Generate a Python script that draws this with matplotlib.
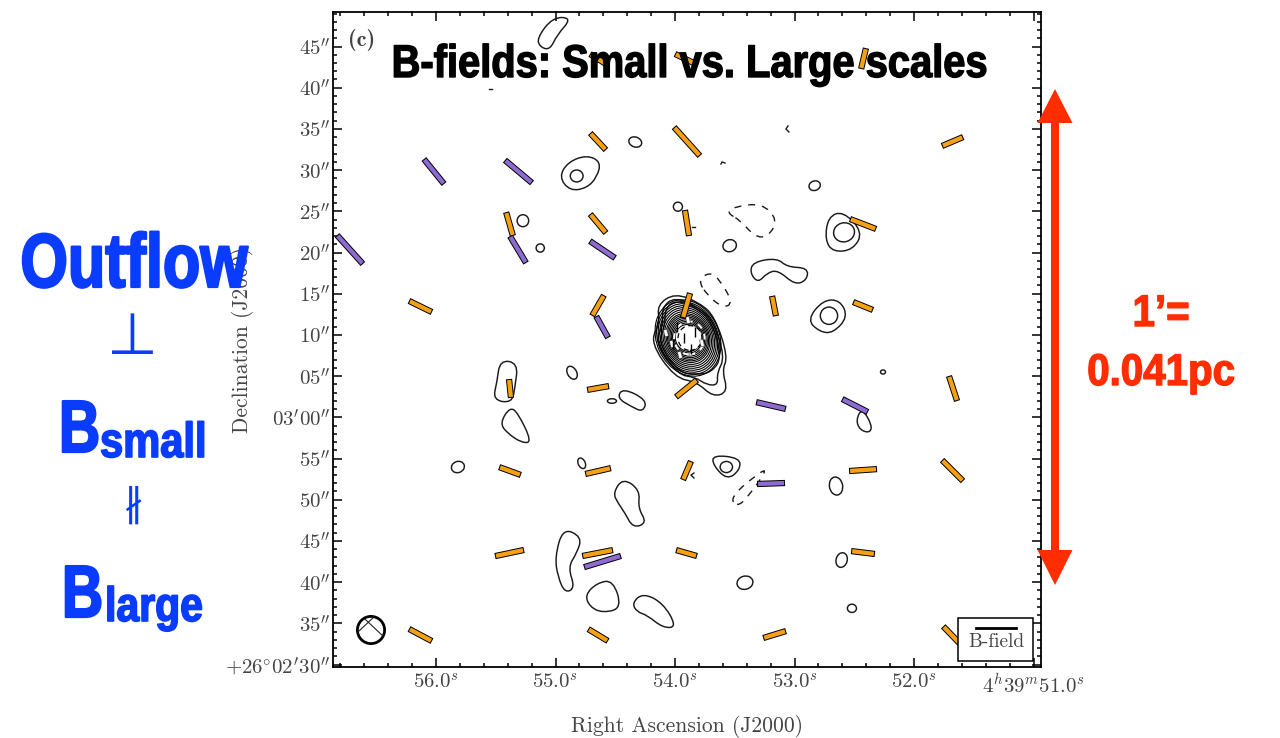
import numpy as np
import matplotlib
matplotlib.use("Agg")
import matplotlib.pyplot as plt
from matplotlib.collections import LineCollection
from matplotlib.patches import Ellipse, PathPatch, Rectangle, Polygon
from matplotlib.patheffects import AbstractPathEffect
from matplotlib.path import Path
from matplotlib.transforms import Affine2D

plt.rcParams['mathtext.fontset'] = 'cm'

# B-field vectors: RA seconds (4h39m..), Dec arcsec (+26d02m..), PA east of north, length arcsec
orange_ra = [54.644, 53.904, 52.423, 54.644, 53.900, 51.678, 55.385, 54.644, 53.900, 52.427, 56.130,
             54.644, 53.904, 53.172, 52.427, 54.644, 53.904, 55.381, 51.674, 55.381, 54.644, 53.900,
             52.427, 51.678, 55.385, 54.648, 53.904, 52.427, 56.130, 54.644, 53.167, 51.670]
orange_dec = [103.48, 103.42, 103.54, 93.47, 93.47, 93.47, 83.46, 83.52, 83.58, 83.46, 73.45,
              73.57, 73.57, 73.51, 73.51, 63.56, 63.50, 63.50, 63.50, 53.48, 53.48, 53.54,
              53.60, 53.54, 43.53, 43.53, 43.53, 43.59, 33.58, 33.58, 33.64, 33.34]
orange_pa = [58, 64, -13, 43, 42, -67, 16, 40, 9, 69, 64,
             -30, -16, 11, 68, -80, -51, 6, 18, 70, -77, -23,
             -86, 45, -78, -79, 74, 83, 62, 59, -73, 44]
orange_len = [2.3, 3.1, 2.6, 2.8, 4.7, 2.8, 3.0, 3.0, 3.2, 3.4, 3.1,
              2.9, 3.15, 2.5, 2.6, 2.7, 3.3, 2.3, 3.2, 2.8, 3.2, 2.5,
              3.4, 3.6, 3.6, 3.8, 2.65, 2.9, 3.15, 2.8, 2.9, 3.6]

purple_ra = [56.017, 55.310, 56.720, 55.314, 54.607, 54.610, 53.197, 52.494, 53.197, 54.607]
purple_dec = [89.83, 89.83, 80.36, 80.36, 80.36, 70.96, 61.43, 61.43, 51.97, 42.50]
purple_pa = [39, 50, 42, 31, 56, 29, 77, 63, -88, -73]
purple_len = [3.9, 4.3, 4.7, 3.8, 3.7, 3.0, 3.7, 3.5, 3.4, 4.7]

# short vectors on top of the central source
core_ra = [54.076, 53.892, 54.026, 53.959, 53.775]
core_dec = [70.23, 71.81, 68.90, 67.56, 69.02]
core_black_ra = [53.984, 53.833, 53.925, 53.867, 54.017]
core_black_dec = [70.96, 70.34, 69.63, 68.29, 68.90]

# small contours, sizes in arcsec, tilt in degrees
oval_ra = [54.333, 54.823, 55.273, 55.128, 53.976, 53.543, 52.832, 52.586, 52.712, 54.862,
           54.528, 54.781, 53.571, 52.606, 53.415, 52.520, 55.817, 52.260, 52.653]
oval_dec = [93.41, 89.29, 83.86, 80.55, 85.56, 80.83, 88.11, 82.45, 72.33, 65.41,
            61.98, 54.42, 53.97, 42.68, 39.93, 36.82, 53.97, 65.50, 51.66]
oval_w = [1.6, 1.55, 1.4, 1.0, 1.1, 1.65, 1.4, 2.55, 2.1, 1.1,
          1.1, 0.85, 1.5, 1.35, 1.95, 1.1, 1.6, 0.6, 1.6]
oval_h = [1.2, 1.45, 1.45, 1.0, 1.1, 1.45, 1.15, 2.3, 2.1, 1.7,
          0.55, 1.35, 1.35, 1.8, 1.6, 1.0, 1.35, 0.5, 2.2]
oval_tilt = [-20, 0, 0, 0, 0, 20, 20, 15, 0, 30, 0, 25, 0, -15, 15, 0, 20, 0, 10]

# central source, nested contours
nest_major = [9.6, 9.1, 8.6, 8.1, 7.6, 7.1, 6.6, 6.1, 5.7, 5.3, 4.9, 4.5, 4.1, 3.7, 3.3]
nest_minor = [7.6, 7.25, 6.9, 6.55, 6.2, 5.85, 5.5, 5.15, 4.85, 4.55, 4.25, 3.95, 3.65, 3.35, 3.05]

# irregular contours (ra list, dec list)
blob_a = ([54.971, 54.896, 54.737, 54.620, 54.653, 54.737, 54.879], [89.17, 90.99, 91.84, 90.99, 89.17, 87.83, 87.47])
blob_b = ([52.745, 52.720, 52.595, 52.427, 52.511, 52.678], [81.52, 84.31, 85.04, 82.49, 80.31, 80.06])
blob_c = ([53.373, 53.348, 53.147, 53.063, 52.888, 52.896, 52.996, 53.139, 53.231, 53.306],
          [77.52, 78.85, 79.34, 78.25, 78.13, 76.67, 76.06, 77.88, 77.52, 76.31])
blob_d = ([52.896, 52.762, 52.620, 52.553, 52.678, 52.787], [71.81, 74.24, 74.24, 72.18, 70.23, 70.35])
blob_e = ([55.465, 55.314, 55.339, 55.365, 55.524, 55.490], [66.96, 66.59, 63.68, 61.74, 62.10, 64.29])
blob_f = ([54.486, 54.436, 54.235, 54.268, 54.360], [62.35, 63.56, 62.10, 60.65, 61.26])
blob_g = ([55.465, 55.381, 55.314, 55.197, 55.281, 55.406], [59.31, 61.26, 60.52, 57.01, 56.89, 58.10])
blob_h = ([54.519, 54.436, 54.293, 54.310, 54.235, 54.352, 54.419, 54.478],
          [50.82, 52.64, 51.18, 49.00, 47.18, 46.57, 48.39, 49.61])
blob_i = ([53.683, 53.683, 53.457, 53.457, 53.565], [54.22, 55.43, 55.07, 53.61, 52.40])
blob_j = ([55.005, 54.938, 54.779, 54.821, 54.896, 54.837, 54.921, 54.980],
          [43.05, 46.57, 45.48, 43.54, 41.84, 39.29, 38.68, 40.63])
blob_k = ([54.754, 54.653, 54.519, 54.444, 54.603, 54.712], [38.44, 39.90, 40.26, 36.86, 36.26, 36.98])
blob_l = ([54.360, 54.268, 54.101, 53.984, 54.101, 54.235, 54.319], [37.47, 38.68, 37.47, 34.56, 34.44, 36.01, 36.38])
blob_m = ([55.155, 55.022, 54.862, 54.988, 55.047, 55.130], [106.04, 108.58, 108.46, 106.40, 104.58, 104.94])
blob_o = ([52.486, 52.436, 52.352, 52.369, 52.453], [59.67, 61.13, 59.07, 58.10, 58.46])
outer_1 = ([54.151, 54.001, 53.791, 53.666, 53.557, 53.607, 53.557, 53.683, 53.817, 54.001, 54.210, 54.126],
           [73.63, 75.09, 73.87, 72.18, 67.32, 65.74, 63.07, 62.47, 64.29, 64.77, 69.14, 71.45])
outer_2 = ([54.109, 54.001, 53.808, 53.683, 53.582, 53.649, 53.641, 53.733, 53.833, 53.976, 54.168, 54.101],
           [73.39, 74.60, 73.39, 71.81, 67.32, 65.38, 63.92, 63.92, 64.89, 65.14, 69.14, 71.20])
outer_3 = ([54.084, 53.984, 53.817, 53.691, 53.607, 53.691, 53.817, 53.976, 54.143, 54.084],
           [73.27, 74.24, 73.27, 71.57, 67.32, 65.50, 65.14, 65.50, 69.14, 70.96])
solid_blobs = [blob_a, blob_b, blob_c, blob_d, blob_e, blob_f, blob_g, blob_h, blob_i, blob_j,
               blob_k, blob_l, blob_m, blob_o, outer_1, outer_2, outer_3]

dash_p = ([53.565, 53.515, 53.273, 53.139, 53.222, 53.331, 53.457], [84.80, 85.52, 86.01, 83.95, 81.89, 81.89, 83.95])
dash_q = ([53.808, 53.708, 53.624, 53.515, 53.599, 53.733], [76.67, 77.64, 76.67, 73.87, 73.27, 74.85])
dash_r = ([53.540, 53.289, 53.231, 53.390, 53.482], [50.33, 53.37, 53.61, 50.33, 49.12])
dash_blobs = [dash_p, dash_q, dash_r]

# tiny contour pieces
tiny_bits = [([53.055, 53.072, 53.047], [95.36, 94.99, 94.63]),
             ([53.616, 53.607, 53.582], [90.74, 90.99, 90.86]),
             ([53.858, 53.833], [83.10, 83.10]),
             ([55.557, 55.532], [99.85, 99.85]),
             ([53.842, 53.867, 53.842], [53.24, 53.00, 52.64])]

xtick_vals = [56, 55, 54, 53, 52, 51]
xtick_labels = [r'$56.0^{s}$', r'$55.0^{s}$', r'$54.0^{s}$', r'$53.0^{s}$', r'$52.0^{s}$', r'$4^{h}39^{m}51.0^{s}$']
ytick_vals = list(range(30, 110, 5))
ytick_labels = [r'$+26^{\circ}02^{\prime}30^{\prime\prime}$', r'$35^{\prime\prime}$', r'$40^{\prime\prime}$',
                r'$45^{\prime\prime}$', r'$50^{\prime\prime}$', r'$55^{\prime\prime}$',
                r'$03^{\prime}00^{\prime\prime}$', r'$05^{\prime\prime}$', r'$10^{\prime\prime}$',
                r'$15^{\prime\prime}$', r'$20^{\prime\prime}$', r'$25^{\prime\prime}$', r'$30^{\prime\prime}$',
                r'$35^{\prime\prime}$', r'$40^{\prime\prime}$', r'$45^{\prime\prime}$']

SCALE = 14.5  # arcsec per second of RA on this map
GREY = '#444444'
ORANGE = '#f6a114'
PURPLE = '#8e6bd0'
BLUE = '#0a3cff'
RED = '#ff2d00'
SANS = 'Liberation Sans'


class Tall(AbstractPathEffect):
    # the slide font is condensed and heavy, none is installed,
    # so stretch the glyphs up from the baseline and thicken them a little
    def __init__(self, k, heavy):
        super().__init__()
        self.k = k
        self.heavy = heavy

    def draw_path(self, renderer, gc, tpath, affine, rgbFace=None):
        gc0 = renderer.new_gc()
        gc0.copy_properties(gc)
        gc0.set_linewidth(self.heavy)
        gc0.set_foreground(rgbFace)
        renderer.draw_path(gc0, tpath, Affine2D().scale(1, self.k) + affine, rgbFace)
        gc0.restore()


def vector_lines(ra, dec, pa, length):
    ra, dec, pa, length = map(np.asarray, (ra, dec, pa, length))
    dx = 0.5 * length * np.sin(np.radians(pa)) / SCALE
    dy = 0.5 * length * np.cos(np.radians(pa))
    return [[(a - b, c - d), (a + b, c + d)] for a, b, c, d in zip(ra, dx, dec, dy)]


def draw_vectors(ax, ra, dec, pa, length, color):
    ax.add_collection(LineCollection(vector_lines(ra, dec, pa, length), colors='black',
                                     linewidths=4.5, capstyle='butt', zorder=5))
    inner = np.asarray(length) - 0.25
    ax.add_collection(LineCollection(vector_lines(ra, dec, pa, inner), colors=color,
                                     linewidths=3.1, capstyle='butt', zorder=6))


def blob_patch(ra, dec, **kw):
    # closed smooth outline, the listed points are the curve's control points
    pts = np.column_stack([ra, dec])
    mids = (pts + np.roll(pts, -1, axis=0)) / 2
    verts = [mids[-1]]
    codes = [Path.MOVETO]
    for p, m in zip(pts, mids):
        verts += [p, m]
        codes += [Path.CURVE3, Path.CURVE3]
    return PathPatch(Path(verts, codes), facecolor='none', **kw)


def oval(ax, ra, dec, w, h, tilt, **kw):
    # sizes in arcsec, drawn around the sky position
    tr = Affine2D().scale(-1.0 / SCALE, 1).translate(ra, dec) + ax.transData
    e = Ellipse((0, 0), w, h, angle=tilt, transform=tr, **kw)
    ax.add_patch(e)


def slide_text(over, x, y, s, size, k, color, ha='center', heavy=1.0):
    t = over.text(x, y, s, family=SANS, weight='bold', fontsize=size, color=color, ha=ha, va='baseline')
    t.set_path_effects([Tall(k, heavy)])


fig = plt.figure(figsize=(12.8, 7.38), dpi=100)
ax = fig.add_axes([333 / 1280, 71 / 738, 708 / 1280, 655 / 738])
ax.set_xlim(56.862, 50.938)
ax.set_ylim(29.70, 109.19)

for b in solid_blobs:
    ax.add_patch(blob_patch(b[0], b[1], edgecolor='#1a1a1a', linewidth=1.05, zorder=3))
for b in dash_blobs:
    ax.add_patch(blob_patch(b[0], b[1], edgecolor='#1a1a1a', linewidth=1.0, linestyle=(0, (5, 5)), zorder=3))
for i in range(len(oval_ra)):
    oval(ax, oval_ra[i], oval_dec[i], oval_w[i], oval_h[i], oval_tilt[i],
         fill=False, edgecolor='#1a1a1a', linewidth=1.05, zorder=3)
for bit in tiny_bits:
    ax.plot(bit[0], bit[1], color='#1a1a1a', linewidth=1.0, zorder=3)

# central source
for major, minor in zip(nest_major, nest_minor):
    oval(ax, 53.892, 69.63, minor, major, 25, fill=False, edgecolor='black', linewidth=0.8, zorder=3)
oval(ax, 53.880, 69.63, 3.7, 4.0, 0, fill=False, edgecolor='white', linewidth=1.4, linestyle=(0, (3, 3)), zorder=4)
oval(ax, 53.875, 69.63, 2.9, 3.0, 0, facecolor='white', edgecolor='black', linewidth=0.9, linestyle=(0, (4, 3)), zorder=4)
ax.add_collection(LineCollection(vector_lines(core_ra, core_dec, [15] * 5, [0.9] * 5), colors='#555555',
                                 linewidths=3.0, capstyle='butt', zorder=4))
ax.add_collection(LineCollection(vector_lines(core_ra, core_dec, [15] * 5, [0.75] * 5), colors='white',
                                 linewidths=2.0, capstyle='butt', zorder=4))
ax.add_collection(LineCollection(vector_lines(core_black_ra, core_black_dec, [0] * 5, [1.2] * 5), colors='black',
                                 linewidths=1.0, capstyle='butt', zorder=5))

draw_vectors(ax, orange_ra, orange_dec, orange_pa, orange_len, ORANGE)
draw_vectors(ax, purple_ra, purple_dec, purple_pa, purple_len, PURPLE)

# beam
oval(ax, 56.544, 34.19, 3.3, 3.3, 0, fill=False, edgecolor='black', linewidth=2.0, zorder=4)
ax.plot([56.653, 56.528], [33.95, 35.65], color='#222222', linewidth=0.8, zorder=4)
ax.plot([56.595, 56.444], [35.52, 33.46], color='#222222', linewidth=0.8, zorder=4)

# legend box
ax.add_patch(Rectangle((0.8828, 0.0092), 0.1059, 0.0656, transform=ax.transAxes,
                       facecolor='white', edgecolor='black', linewidth=1.1, zorder=7))
ax.plot([0.9082, 0.9647], [0.0595, 0.0595], transform=ax.transAxes, color='black', linewidth=2.0, zorder=8)
ax.text(0.9364, 0.0382, 'B-field', transform=ax.transAxes, family='cmr10', fontsize=14,
        color=GREY, ha='center', va='center', zorder=8)
ax.text(0.0215, 0.958, '(c)', transform=ax.transAxes, family='cmb10', fontsize=16,
        color=GREY, ha='left', va='center', zorder=8)

ax.set_xticks(xtick_vals)
ax.set_xticklabels(xtick_labels, fontsize=15, color=GREY)
ax.set_yticks(ytick_vals)
ax.set_yticklabels(ytick_labels, fontsize=15, color=GREY)
ax.set_xticks(np.arange(51, 56.85, 0.2), minor=True)
ax.set_yticks(np.arange(30, 109.5, 1), minor=True)
ax.tick_params(which='major', direction='in', length=6.5, width=1.1, top=True, right=True)
ax.tick_params(axis='x', which='major', pad=4)
ax.tick_params(axis='y', which='major', pad=2)
ax.tick_params(which='minor', direction='in', length=3, width=1.1, top=True, right=True)
for s in ax.spines.values():
    s.set_linewidth(1.3)
ax.set_xlabel('Right Ascension (J2000)', family='cmr10', fontsize=15.5, color=GREY)
ax.set_ylabel('Declination (J2000)', family='cmr10', fontsize=15.5, color=GREY)
ax.xaxis.set_label_coords(0.5, -0.074)
ax.yaxis.set_label_coords(-0.112, 0.4992)

# slide annotations on top, laid out in picture pixels
over = fig.add_axes([0, 0, 1, 1], zorder=10)
over.set_xlim(0, 1280)
over.set_ylim(738, 0)
over.axis('off')
over.patch.set_alpha(0)

slide_text(over, 689.5, 77, 'B-fields: Small vs. Large scales', 28.7, 1.15, 'black')
slide_text(over, 134, 287, 'Outflow', 44, 1.25, BLUE, heavy=1.6)
over.text(132, 337, '\u22a5', family='DejaVu Sans', fontsize=42, color=BLUE, ha='center', va='center')
slide_text(over, 59, 452, 'B', 41, 1.3, BLUE, ha='left', heavy=1.6)
slide_text(over, 100, 457, 'small', 30, 1.18, BLUE, ha='left', heavy=1.2)
over.text(133, 505, '\u2226', family='DejaVu Sans', fontsize=28, color=BLUE, ha='center', va='center')
slide_text(over, 62, 617, 'B', 41, 1.3, BLUE, ha='left', heavy=1.6)
slide_text(over, 105, 621, 'large', 29.5, 1.18, BLUE, ha='left', heavy=1.2)
slide_text(over, 1161, 326, '1\u2019=', 29, 1.1, RED, heavy=1.0)
slide_text(over, 1161, 385, '0.041pc', 29, 1.1, RED, heavy=1.0)

over.add_patch(Rectangle((1051, 120), 8, 433, facecolor=RED, edgecolor='none'))
over.add_patch(Polygon([(1055, 89), (1037.5, 123), (1072.5, 123)], closed=True, facecolor=RED, edgecolor='none'))
over.add_patch(Polygon([(1055, 585), (1037.5, 550), (1072.5, 550)], closed=True, facecolor=RED, edgecolor='none'))

fig.savefig('out.png', dpi=100)
